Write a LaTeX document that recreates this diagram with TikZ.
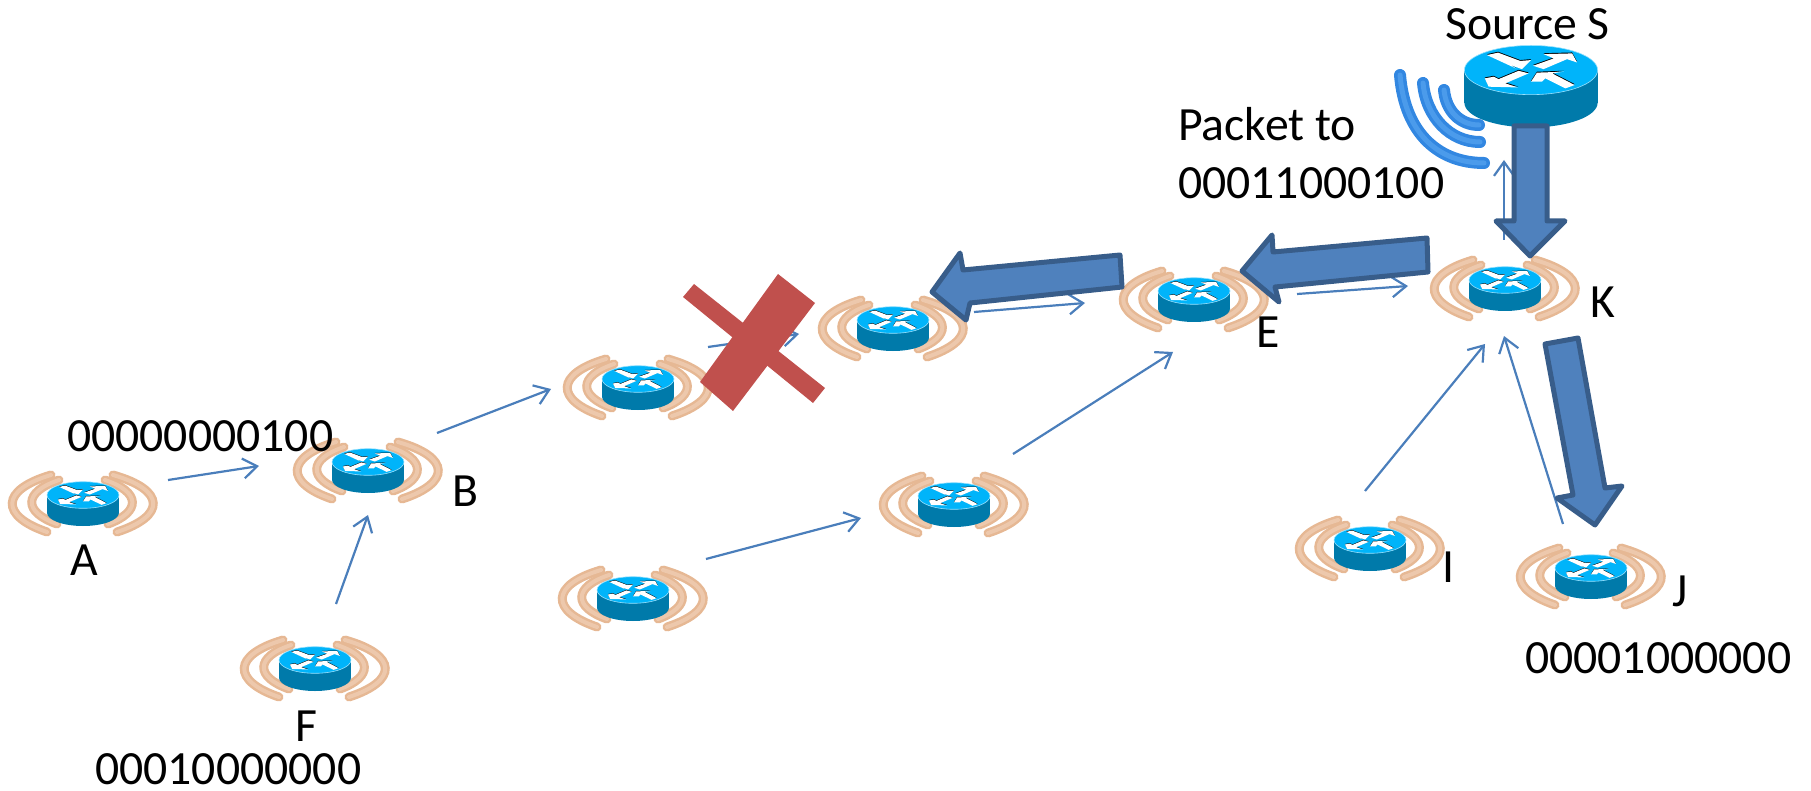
\documentclass[tikz,border=0pt]{standalone}
\usepackage{fontspec}
\setmainfont{Carlito}
\usetikzlibrary{arrows.meta,calc}
\definecolor{topblue}{RGB}{0,180,250}
\definecolor{sideblue}{RGB}{0,122,170}
\definecolor{tanout}{RGB}{230,184,148}
\definecolor{tanin}{RGB}{237,200,172}
\definecolor{thinblue}{RGB}{74,126,187}
\definecolor{fillblue}{RGB}{79,129,189}
\definecolor{edgeblue}{RGB}{56,93,138}
\definecolor{crossred}{RGB}{192,80,77}
\definecolor{wavedark}{RGB}{50,135,225}
\definecolor{wavelight}{RGB}{75,155,235}
\newcommand{\routerglyphs}{%
  \foreach \gc/\gs in {black/-.5,white/0}{
    \begin{scope}[shift={(0,-7+\gs)},fill=\gc]
      \fill (-23.8,-8.1) -- (-17.8,-9.4) -- (-5.8,-4.9) -- (0,-5.4) -- (-4.9,-.5) -- (-11.2,-2.7) -- (-8,-.8) -- cycle;
      \fill (1.1,-2.3) -- (12.3,-6.3) -- (6.8,-8.6) -- (22.2,-9) -- (24.9,-4.1) -- (19.5,-5.9) -- (6.8,-.5) -- cycle;
      \fill (-1.3,1.8) -- (-6.7,.4) -- (-17.5,4.9) -- (-20.2,3.6) -- (-25,4.5) -- (-22.9,9) -- (-7,9.4) -- (-13.9,7.2) -- cycle;
      \fill (0,6.3) -- (3.2,1.4) -- (17.7,.9) -- (11.4,1.8) -- (23.6,8.1) -- (18.6,9.9) -- (7.7,4.5) -- (5.9,6.3) -- cycle;
    \end{scope}
  }%
}
\newcommand{\routercyl}{%
  \fill[sideblue] (0,10.7) ellipse [x radius=36pt,y radius=13.3pt];
  \fill[sideblue] (-36,-7) rectangle (36,10.7);
  \draw[fill=topblue,draw=white!60!topblue,line width=.6pt] (0,-7) ellipse [x radius=36pt,y radius=13.3pt];
  \routerglyphs
}
\tikzset{
  x=1pt,y=-1pt,
  anchorpt/.style={inner sep=0pt,minimum size=0pt},
  lbl/.style={anchor=base west,inner sep=0pt,font=\fontsize{47.7}{57}\selectfont},
  thin link/.style={draw=thinblue,line width=2.2pt,-{Straight Barb[length=14pt,width=20pt,line width=2.2pt]}},
  thick link/.style={draw=edgeblue,fill=fillblue,line width=5pt,line join=round},
  tanarc/.style={line cap=round},
  pics/routerbody/.style={code={
    \foreach \c/\w in {tanout/9pt,tanin/4pt}{
      \draw[tanarc,draw=\c,line width=\w] (-32,-27) .. controls (-83,-12) and (-83,14) .. (-36,30);
      \draw[tanarc,draw=\c,line width=\w] (-24,-22) .. controls (-60,-10) and (-60,10) .. (-26,22);
      \draw[tanarc,draw=\c,line width=\w] (30,-27) .. controls (83,-12) and (83,14) .. (34,30);
      \draw[tanarc,draw=\c,line width=\w] (22,-22) .. controls (58,-10) and (58,10) .. (25,22);
    }
    \routercyl
  }},
  pics/routerbare/.style={code={\routercyl}},
}
\begin{document}
\begin{tikzpicture}
\useasboundingbox (0,0) rectangle (1811,791);
% router anchors
\foreach \n/\px/\py in {A/83/502,B/368/469,C/638/386,D/893/327,E/1194/298,K/1505/287,G/954/503,H/633/597,Fr/315/667,Ir/1370/547,Jr/1591/575}{
  \node[anchorpt] (\n) at (\px,\py) {};
  \pic at (\n) {routerbody};
}
% source transmitter waves
\node[anchorpt] (S) at (1531,83) {};
\foreach \c/\w in {wavedark/12pt,wavelight/5pt}{
  \draw[line cap=round,draw=\c,line width=\w] ($(S)+(-131,-8)$) .. controls ($(S)+(-126,52)$) and ($(S)+(-91,80)$) .. ($(S)+(-47,80)$);
  \draw[line cap=round,draw=\c,line width=\w] ($(S)+(-108,0)$) .. controls ($(S)+(-105,34)$) and ($(S)+(-81,59)$) .. ($(S)+(-51,59)$);
  \draw[line cap=round,draw=\c,line width=\w] ($(S)+(-87,7)$) .. controls ($(S)+(-85,28)$) and ($(S)+(-71,42)$) .. ($(S)+(-52,42)$);
}
\pic[scale=1.85] at (S) {routerbare};
% thin connectors
\draw[thin link] ($(A)+(85,-22)$) -- ($(B)+(-109,-3)$);
\draw[thin link] ($(Fr)+(21,-63)$) -- ($(B)+(0,46)$);
\draw[thin link] ($(B)+(69,-36)$) -- ($(C)+(-87,3)$);
\draw[thin link] ($(C)+(70,-39)$) -- ($(D)+(-94,7)$);
\draw[thin link] ($(D)+(81,-15)$) -- ($(E)+(-109,5)$);
\draw[thin link] ($(H)+(73,-38)$) -- ($(G)+(-93,15)$);
\draw[thin link] ($(G)+(59,-49)$) -- ($(E)+(-21,54)$);
\draw[thin link] ($(E)+(103,-4)$) -- ($(K)+(-97,-1)$);
\draw[thin link] ($(Ir)+(-5,-56)$) -- ($(K)+(-20,57)$);
\draw[thin link] ($(Jr)+(-28,-51)$) -- ($(K)+(-1,49)$);
\draw[thin link] ($(K)+(-1,-47)$) -- ($(S)+(-27,77)$);
% thick arrows
\draw[thick link] ($(S)+(-17,43)$) -- ($(S)+(16,43)$) -- ($(S)+(16,138)$) -- ($(S)+(34,138)$) -- ($(S)+(-1,173)$) -- ($(S)+(-35,138)$) -- ($(S)+(-17,138)$) -- cycle;
\draw[thick link] ($(K)+(-78,-49)$) -- ($(K)+(-77,-15)$) -- ($(K)+(-230,0)$) -- ($(K)+(-226,15)$) -- ($(K)+(-263,-16)$) -- ($(K)+(-233,-52)$) -- ($(K)+(-232,-35)$) -- cycle;
\draw[thick link] ($(E)+(-74,-43)$) -- ($(E)+(-72,-11)$) -- ($(E)+(-224,5)$) -- ($(E)+(-228,22)$) -- ($(E)+(-262,-6)$) -- ($(E)+(-234,-45)$) -- ($(E)+(-231,-28)$) -- cycle;
\draw[thick link] ($(K)+(40,57)$) -- ($(K)+(73,51)$) -- ($(K)+(100,201)$) -- ($(K)+(117,199)$) -- ($(K)+(90,238)$) -- ($(K)+(52,211)$) -- ($(K)+(68,208)$) -- cycle;
% red cross
\fill[crossred] (683,297) -- (694,284) -- (825,388) -- (813,403) -- cycle;
\fill[crossred] (778,274) -- (815,303) -- (733,411) -- (700,382) -- cycle;
% labels
\node[lbl] (tSource) at (1445,40) {Source S};
\node[lbl] (tPacket) at (1178,141) {Packet to};
\node[lbl] (tAddr) at (1178,199) {00011000100};
\node[lbl] (tB0) at (67,451) {00000000100};
\node[lbl] (tA) at (70,575) {A};
\node[lbl] (tB) at (452,506) {B};
\node[lbl] (tE) at (1256,348) {E};
\node[lbl] (tK) at (1590,317) {K};
\node[lbl] (tI) at (1442,582) {I};
\node[lbl] (tJ) at (1672,606) {J};
\node[lbl] (tJ0) at (1525,673) {00001000000};
\node[lbl] (tF) at (295,741) {F};
\node[lbl] (tF0) at (95,784) {00010000000};
\end{tikzpicture}
\end{document}
